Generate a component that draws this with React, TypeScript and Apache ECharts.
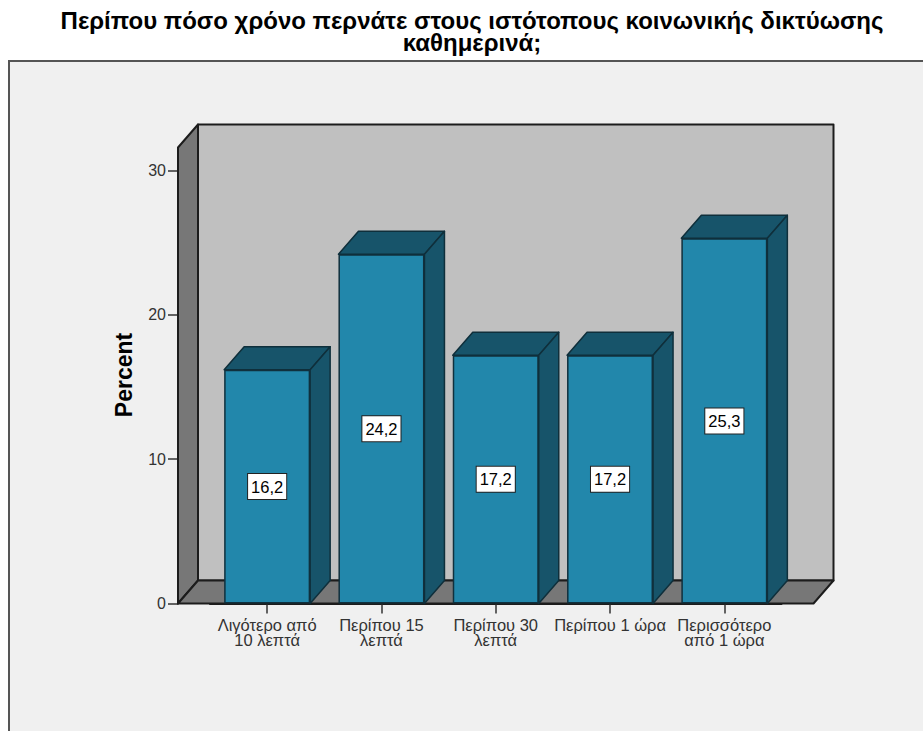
import React, { useEffect, useRef } from "react";
import * as echarts from "echarts";

// Share of respondents per answer
const categories = [
  "Λιγότερο από\n10 λεπτά",
  "Περίπου 15\nλεπτά",
  "Περίπου 30\nλεπτά",
  "Περίπου 1 ώρα",
  "Περισσότερο\nαπό 1 ώρα",
];
const percentValues = [16.2, 24.2, 17.2, 17.2, 25.3];
const yTicksMax = 30;
const yTicksStep = 10;
const chartTitle =
  "Περίπου πόσο χρόνο περνάτε στους ιστότοπους κοινωνικής δικτύωσης\nκαθημερινά;";
const yAxisTitle = "Percent";

const FONT = "'Liberation Sans', Arial, sans-serif";
const OUTLINE = "#1c1c1c";
const BAR_WIDTH = 86;
const DEPTH_X = 20;
const DEPTH_Y = 23;

export default function App() {
  const ref = useRef<HTMLDivElement>(null);

  useEffect(() => {
    const chart = echarts.init(ref.current!, undefined, { renderer: "svg" });

    // Back wall, left wall and floor of the box around the plot
    const renderBox = (params: any, api: any) => {
      const c = params.coordSys;
      const left = c.x - 32;
      const right = c.x + c.width + 32;
      const base = c.y + c.height;
      const top = c.y - 23;
      const style = { stroke: OUTLINE, lineWidth: 2, lineJoin: "round" };
      return {
        type: "group",
        children: [
          {
            type: "rect",
            shape: { x: left + DEPTH_X, y: top - DEPTH_Y, width: right - left, height: base - top },
            style: { ...style, fill: "#c0c0c0" },
          },
          {
            type: "polygon",
            shape: {
              points: [
                [left, top],
                [left + DEPTH_X, top - DEPTH_Y],
                [left + DEPTH_X, base - DEPTH_Y],
                [left, base],
              ],
            },
            style: { ...style, fill: "#777777" },
          },
          {
            type: "polygon",
            shape: {
              points: [
                [left, base],
                [left + DEPTH_X, base - DEPTH_Y],
                [right + DEPTH_X, base - DEPTH_Y],
                [right, base],
              ],
            },
            style: { ...style, fill: "#777777" },
          },
        ],
      };
    };

    // Top and right-hand faces of each bar
    const renderFaces = (params: any, api: any) => {
      const [cx, y] = api.coord([api.value(0), api.value(1)]);
      const base = api.coord([api.value(0), 0])[1];
      const l = cx - BAR_WIDTH / 2;
      const r = cx + BAR_WIDTH / 2;
      const style = { fill: "#17546a", stroke: "#0f2f3b", lineWidth: 1.5, lineJoin: "round" };
      return {
        type: "group",
        children: [
          {
            type: "polygon",
            shape: {
              points: [
                [l, y],
                [l + DEPTH_X, y - DEPTH_Y],
                [r + DEPTH_X, y - DEPTH_Y],
                [r, y],
              ],
            },
            style,
          },
          {
            type: "polygon",
            shape: {
              points: [
                [r, y],
                [r + DEPTH_X, y - DEPTH_Y],
                [r + DEPTH_X, base - DEPTH_Y],
                [r, base],
              ],
            },
            style,
          },
        ],
      };
    };

    chart.setOption({
      animation: false,
      backgroundColor: "#ffffff",
      title: {
        text: chartTitle,
        left: 467,
        top: 4,
        textAlign: "center",
        textStyle: {
          fontFamily: FONT,
          fontSize: 24,
          fontWeight: "bold",
          color: "#000000",
          lineHeight: 22,
        },
      },
      grid: { left: 210, top: 170.5, width: 571.5, height: 433 },
      xAxis: {
        type: "category",
        data: categories,
        axisLine: { show: true, lineStyle: { color: OUTLINE, width: 2 } },
        axisTick: { show: true, alignWithLabel: true, length: 10, lineStyle: { color: "#333333", width: 1.5 } },
        axisLabel: {
          interval: 0,
          margin: 14,
          fontFamily: FONT,
          fontSize: 16.5,
          lineHeight: 15,
          color: "#333333",
        },
      },
      yAxis: {
        type: "value",
        min: 0,
        max: yTicksMax,
        interval: yTicksStep,
        offset: 32,
        splitLine: { show: false },
        axisLine: { show: true, lineStyle: { color: OUTLINE, width: 2 } },
        axisTick: { show: true, length: 10, lineStyle: { color: "#333333", width: 1.5 } },
        axisLabel: { margin: 12, fontFamily: FONT, fontSize: 16, color: "#333333" },
      },
      graphic: [
        {
          type: "rect",
          z: -10,
          shape: { x: 9, y: 61, width: 1000, height: 1000 },
          style: { fill: "#f0f0f0", stroke: "#555555", lineWidth: 2 },
        },
        {
          type: "text",
          x: 124,
          y: 375,
          rotation: Math.PI / 2,
          style: {
            text: yAxisTitle,
            fontFamily: FONT,
            fontSize: 23,
            fontWeight: "bold",
            fill: "#000000",
            align: "center",
            verticalAlign: "middle",
          },
        },
      ],
      series: [
        {
          type: "custom",
          name: "box",
          z: 1,
          renderItem: renderBox,
          data: [[0, 0]],
          silent: true,
        },
        {
          type: "custom",
          name: "faces",
          z: 2,
          renderItem: renderFaces,
          encode: { x: 0, y: 1 },
          data: percentValues.map((v, i) => [i, v]),
          silent: true,
        },
        {
          type: "bar",
          name: "Percent",
          z: 3,
          barWidth: BAR_WIDTH,
          data: percentValues,
          itemStyle: { color: "#2287ab", borderColor: "#10303d", borderWidth: 1.5 },
          label: {
            show: true,
            position: "inside",
            formatter: (p: any) => String(p.value).replace(".", ","),
            fontFamily: FONT,
            fontSize: 16.5,
            color: "#000000",
            backgroundColor: "#ffffff",
            borderColor: "#222222",
            borderWidth: 1,
            padding: [5, 3, 3, 3],
          },
        },
      ],
    });

    return () => chart.dispose();
  }, []);

  return (
    <div
      ref={ref}
      style={{ position: "fixed", left: 0, top: 0, width: 923, height: 731 }}
    />
  );
}
